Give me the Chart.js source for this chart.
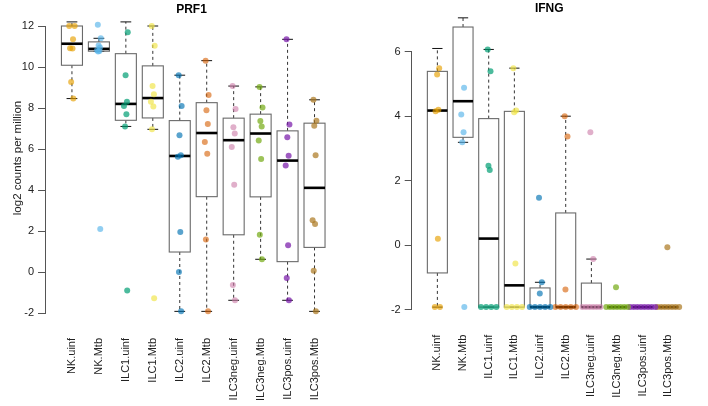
<!DOCTYPE html>
<html><head><meta charset="utf-8">
<script src="https://cdn.jsdelivr.net/npm/chart.js@4.4.0/dist/chart.umd.min.js"></script>
<style>
html,body{margin:0;padding:0;background:#fff;}
#wrap{position:relative;width:708px;height:406px;overflow:hidden;}
canvas{position:absolute;top:0;}
</style></head><body>
<div id="wrap">
<canvas id="c1" width="354" height="406" style="left:0;width:354px;height:406px"></canvas>
<canvas id="c2" width="354" height="406" style="left:354px;width:354px;height:406px"></canvas>
</div>
<script>
const categories = ['NK.uinf','NK.Mtb','ILC1.uinf','ILC1.Mtb','ILC2.uinf','ILC2.Mtb','ILC3neg.uinf','ILC3neg.Mtb','ILC3pos.uinf','ILC3pos.Mtb'];
const pointColors = ['rgba(230,159,0,0.65)','rgba(86,180,233,0.65)','rgba(0,158,115,0.7)','rgba(240,228,66,0.65)','rgba(0,114,178,0.65)','rgba(213,94,0,0.6)','rgba(204,121,167,0.6)','rgba(115,169,19,0.7)','rgba(122,28,171,0.72)','rgba(171,119,31,0.7)'];
const prf1Ticks = [-2,0,2,4,6,8,10,12];
const ifngTicks = [-2,0,2,4,6];

const prf1Values = [
  [12.2, 12.0, 12.0, 11.35, 10.92, 10.9, 9.27, 8.46],
  [12.06, 11.4, 11.05, 10.95, 10.82, 10.78, 10.76, 2.1],
  [12.2, 11.7, 9.6, 8.3, 8.1, 7.7, 7.1, -0.9],
  [12.0, 11.04, 9.07, 8.67, 8.3, 8.07, 6.96, -1.28],
  [9.6, 8.1, 6.67, 5.7, 5.62, 1.95, 0.0, -1.92],
  [10.31, 8.63, 7.89, 7.22, 6.34, 5.77, 1.58, -1.92],
  [9.07, 7.95, 7.06, 6.76, 6.1, 4.26, -0.63, -1.38],
  [9.03, 8.03, 7.37, 7.1, 6.41, 5.51, 1.82, 0.62],
  [11.35, 7.2, 6.57, 5.67, 5.2, 1.3, -0.29, -1.38],
  [8.4, 7.38, 7.14, 5.69, 2.52, 2.34, 0.06, -1.92]
];
const ifngValues = [
  [6.1, 5.49, 5.29, 4.2, 4.15, 0.2, -1.92, -1.92],
  [7.05, 7.03, 6.5, 4.88, 4.05, 3.5, 3.19, -1.92],
  [6.07, 5.39, 2.46, 2.33, -1.92, -1.92, -1.92, -1.92],
  [5.49, 4.18, 4.12, -0.57, -1.92, -1.92, -1.92, -1.92],
  [1.47, -1.15, -1.5, -1.92, -1.92, -1.92, -1.92, -1.92],
  [4.0, 3.37, -1.37, -1.92, -1.92, -1.92, -1.92, -1.92],
  [3.5, -0.43, -1.92, -1.92, -1.92, -1.92, -1.92, -1.92],
  [-1.3, -1.92, -1.92, -1.92, -1.92, -1.92, -1.92, -1.92],
  [-1.92, -1.92, -1.92, -1.92, -1.92, -1.92, -1.92, -1.92],
  [-0.06, -1.92, -1.92, -1.92, -1.92, -1.92, -1.92, -1.92]
];

const FONT = "'Liberation Sans', Arial, Helvetica, sans-serif";
const jitterPattern = [-0.04, 0.07, -0.01, 0.04, -0.07, 0.02, -0.03, 0.05, 0.0];

function fivenum(arr){
  const x = [...arr].sort((a,b)=>a-b); const n = x.length;
  const n4 = Math.floor((n+3)/2)/2;
  const d = [1, n4, (n+1)/2, n+1-n4, n];
  return d.map(v => 0.5*(x[Math.floor(v)-1] + x[Math.ceil(v)-1]));
}
function boxStats(arr){
  const s = fivenum(arr); const iqr = s[3]-s[1];
  const lo = s[1]-1.5*iqr, hi = s[3]+1.5*iqr;
  const inside = arr.filter(v => v >= lo-1e-9 && v <= hi+1e-9);
  return {lo: Math.min(...inside), q1: s[1], med: s[2], q3: s[3], hi: Math.max(...inside)};
}
function groupPoints(vals, gi){
  const pts = []; const used = new Array(vals.length).fill(false);
  vals.forEach((v,i) => {
    if (used[i]) return;
    const tie = []; vals.forEach((w,j)=>{ if(!used[j] && Math.abs(w-v)<0.005){ tie.push(j); used[j]=true; } });
    if (tie.length === 1) { pts.push({x: gi+1+jitterPattern[i % jitterPattern.length], y: v}); }
    else {
      const sp = tie.length >= 6 ? 0.14 : 0.2;
      tie.forEach((j,k)=>{ pts.push({x: gi+1+(k-(tie.length-1)/2)*sp, y: vals[j]}); });
    }
  });
  return pts;
}

const boxPlugin = {
  id: 'rbox',
  beforeDatasetsDraw(chart, args, opts){
    const ctx = chart.ctx, xs = chart.scales.x, ys = chart.scales.y;
    opts.values.forEach((vals, i) => {
      const st = boxStats(vals); const c = i+1;
      const xl = xs.getPixelForValue(c-0.39), xr = xs.getPixelForValue(c+0.39), xc = xs.getPixelForValue(c);
      const cl = xs.getPixelForValue(c-0.2), cr = xs.getPixelForValue(c+0.2);
      const yq1 = ys.getPixelForValue(st.q1), yq3 = ys.getPixelForValue(st.q3), ym = ys.getPixelForValue(st.med);
      const ylo = ys.getPixelForValue(st.lo), yhi = ys.getPixelForValue(st.hi);
      ctx.save();
      ctx.strokeStyle = '#333'; ctx.lineWidth = 1; ctx.setLineDash([3,3]);
      ctx.beginPath(); ctx.moveTo(xc, yq3); ctx.lineTo(xc, yhi); ctx.moveTo(xc, yq1); ctx.lineTo(xc, ylo); ctx.stroke();
      ctx.setLineDash([]); ctx.strokeStyle = '#111';
      ctx.beginPath(); ctx.moveTo(cl, yhi); ctx.lineTo(cr, yhi); ctx.moveTo(cl, ylo); ctx.lineTo(cr, ylo); ctx.stroke();
      ctx.strokeStyle = '#6a6a6a'; ctx.lineWidth = 1.1;
      ctx.strokeRect(xl, yq3, xr-xl, yq1-yq3);
      ctx.strokeStyle = '#000'; ctx.lineWidth = 2.6;
      ctx.beginPath(); ctx.moveTo(xl, ym); ctx.lineTo(xr, ym); ctx.stroke();
      ctx.restore();
    });
  }
};
const ylabPlugin = {
  id: 'ylab',
  afterDraw(chart, args, opts){
    if (!opts.text) return;
    const ctx = chart.ctx; ctx.save();
    ctx.translate(opts.x, opts.y); ctx.rotate(-Math.PI/2);
    ctx.font = '11.5px ' + FONT; ctx.fillStyle = '#222'; ctx.textAlign = 'center'; ctx.textBaseline = 'middle';
    ctx.fillText(opts.text, 0, 0); ctx.restore();
  }
};

function makeChart(id, title, values, ticks, cfg){
  const datasets = values.map((vals, i) => ({
    label: categories[i], data: groupPoints(vals, i), backgroundColor: pointColors[i],
    borderWidth: 0, pointRadius: 3, pointHoverRadius: 3, clip: false
  }));
  return new Chart(document.getElementById(id), {
    type: 'scatter',
    data: { datasets },
    plugins: [boxPlugin, ylabPlugin],
    options: {
      responsive: false, animation: false, devicePixelRatio: 1, events: [],
      layout: { padding: { left: 0, right: cfg.padRight, top: 0, bottom: 0 }, autoPadding: false },
      plugins: {
        legend: { display: false }, tooltip: { enabled: false },
        title: { display: true, text: title, fullSize: false, color: '#000',
          font: { family: FONT, size: 12, weight: 'bold' }, padding: { top: cfg.titleTop, bottom: cfg.titleBottom } },
        rbox: { values },
        ylab: { text: cfg.ylab, x: 18, y: 158 }
      },
      scales: {
        x: { type: 'linear', min: 0, max: cfg.xmax,
          afterBuildTicks: s => { s.ticks = categories.map((c, i) => ({ value: i+1 })); },
          afterFit: s => { s.height = cfg.xHeight; },
          ticks: { autoSkip: false, minRotation: 90, maxRotation: 90, padding: 25, color: '#222',
            font: { family: FONT, size: 11 }, callback: v => categories[Math.round(v)-1] || '' },
          grid: { display: false, drawTicks: false }, border: { display: false } },
        y: { min: ticks[0], max: ticks[ticks.length-1],
          afterBuildTicks: s => { s.ticks = ticks.map(v => ({ value: v })); },
          afterFit: s => { s.width = cfg.yWidth; },
          ticks: { padding: 4, color: '#222', font: { family: FONT, size: 11 } },
          grid: { display: true, drawOnChartArea: false, drawTicks: true, tickLength: 7, color: '#555' },
          border: { display: true, color: '#555' } }
      }
    }
  });
}

makeChart('c1', 'PRF1', prf1Values, prf1Ticks,
  { padRight: 11, titleTop: 2.8, titleBottom: 8.8, xmax: 10.87, xHeight: 93, yWidth: 45, ylab: 'log2 counts per million' });
makeChart('c2', 'IFNG', ifngValues, ifngTicks,
  { padRight: 1.7, titleTop: 1.8, titleBottom: 35.5, xmax: 10.72, xHeight: 96.3, yWidth: 57.7, ylab: '' });
</script>
</body></html>
